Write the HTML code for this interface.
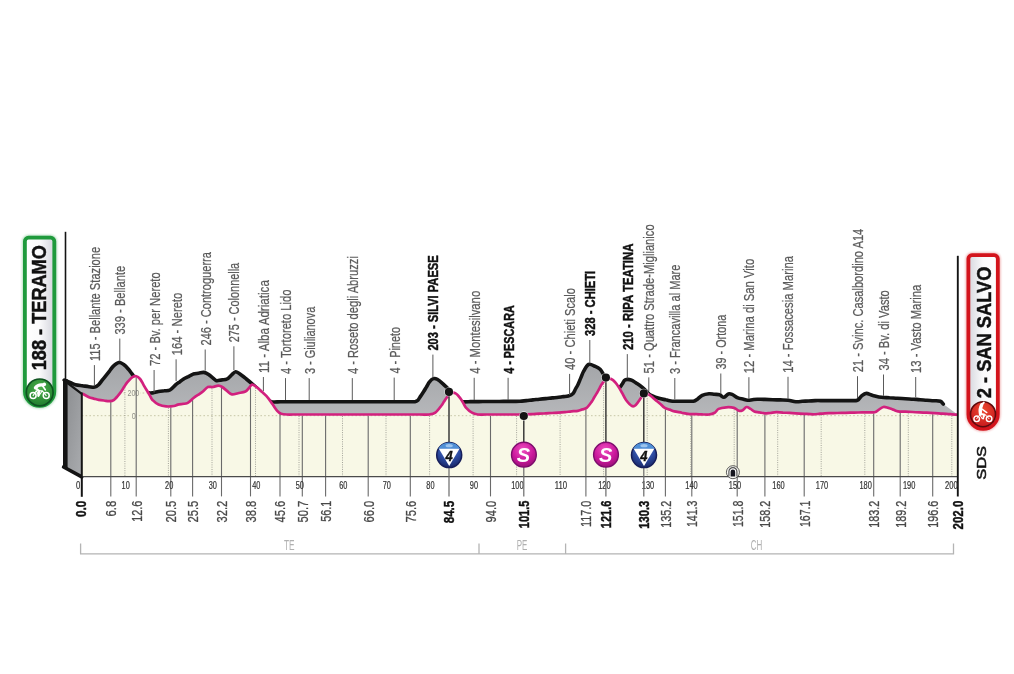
<!DOCTYPE html>
<html lang="it">
<head>
<meta charset="utf-8">
<title>Teramo - San Salvo</title>
<style>
html,body{margin:0;padding:0;background:#ffffff;}
body{width:1014px;height:674px;overflow:hidden;}
svg{display:block;}
</style>
</head>
<body>
<svg width="1014" height="674" viewBox="0 0 1014 674" font-family="'Liberation Sans', sans-serif">
<defs>
<linearGradient id="gTop" x1="0" y1="0" x2="0" y2="1"><stop offset="0" stop-color="#a3a5a8"/><stop offset="1" stop-color="#bbbcbf"/></linearGradient>
<linearGradient id="gSide" x1="0" y1="0" x2="1" y2="1"><stop offset="0" stop-color="#8a8c8f"/><stop offset="1" stop-color="#aaacaf"/></linearGradient>
<linearGradient id="gStart" x1="0" y1="0" x2="1" y2="0"><stop offset="0" stop-color="#ffffff"/><stop offset="0.5" stop-color="#fafafb"/><stop offset="1" stop-color="#d3d4dc"/></linearGradient>
<linearGradient id="gFin" x1="0" y1="0" x2="1" y2="0"><stop offset="0" stop-color="#d6d7de"/><stop offset="0.5" stop-color="#fafafb"/><stop offset="1" stop-color="#ffffff"/></linearGradient>
<radialGradient id="gGreen" cx="0.5" cy="0.35" r="0.7"><stop offset="0" stop-color="#4db04a"/><stop offset="1" stop-color="#1c7a2c"/></radialGradient>
<radialGradient id="gRed" cx="0.5" cy="0.35" r="0.7"><stop offset="0" stop-color="#ee4a30"/><stop offset="1" stop-color="#c4161c"/></radialGradient>
<radialGradient id="gBlue" cx="0.5" cy="0.25" r="0.8"><stop offset="0" stop-color="#5f86d6"/><stop offset="0.55" stop-color="#2c4aa0"/><stop offset="1" stop-color="#16225e"/></radialGradient>
<radialGradient id="gMag" cx="0.45" cy="0.3" r="0.8"><stop offset="0" stop-color="#ef4fc0"/><stop offset="0.55" stop-color="#c9179b"/><stop offset="1" stop-color="#8c0f6c"/></radialGradient>
<filter id="blur1" x="-20%" y="-20%" width="140%" height="140%"><feGaussianBlur stdDeviation="1.2"/></filter>
</defs>
<rect width="1014" height="674" fill="#ffffff"/>
<path d="M64.5,380.2C65.4,380.6 68.1,381.7 70.0,382.4C71.8,383.2 73.4,384.2 75.4,384.7C77.4,385.2 79.9,385.4 82.2,385.7C84.5,386.0 86.9,386.5 89.0,386.7C91.1,386.9 93.1,387.4 94.7,387.1C96.3,386.8 97.3,385.9 98.6,384.7C99.9,383.5 101.2,381.5 102.4,379.9C103.7,378.3 105.1,376.6 106.3,375.1C107.5,373.6 108.6,372.2 109.7,370.8C110.8,369.3 111.6,367.8 113.1,366.4C114.6,365.0 117.1,362.8 118.9,362.5C120.7,362.2 122.1,363.4 123.7,364.5C125.3,365.6 127.2,367.8 128.5,369.3C129.8,370.8 130.7,372.2 131.8,373.6C132.8,375.1 134.0,376.4 135.0,378.0C136.0,379.6 137.0,381.3 138.0,383.0C139.0,384.7 139.5,386.4 141.0,388.0C142.5,389.6 145.1,391.7 147.0,392.5C148.9,393.3 150.8,393.1 152.7,392.9C154.6,392.7 156.6,391.9 158.5,391.5C160.4,391.1 162.3,391.0 164.2,390.8C166.2,390.5 168.1,391.0 170.0,390.0C171.9,389.0 174.2,386.1 175.8,384.7C177.4,383.3 178.4,382.8 179.7,381.9C181.0,380.9 182.2,379.9 183.6,379.0C185.0,378.1 186.8,377.4 188.4,376.6C190.0,375.7 191.5,374.7 193.2,374.1C194.9,373.6 196.7,373.5 198.5,373.2C200.3,373.0 202.1,372.2 203.8,372.4C205.5,372.6 207.2,373.6 208.6,374.5C210.0,375.4 211.2,376.6 212.5,377.6C213.8,378.6 214.9,380.3 216.4,380.7C217.9,381.1 219.9,380.1 221.7,379.9C223.5,379.6 225.3,379.9 227.0,379.0C228.7,378.1 230.5,375.8 231.9,374.6C233.3,373.4 234.4,371.8 235.7,371.7C237.0,371.6 237.8,372.6 239.6,373.8C241.4,375.0 244.2,377.3 246.3,379.0C248.4,380.7 250.5,382.4 252.1,383.8C253.7,385.2 254.7,386.2 256.1,387.4C257.4,388.6 258.8,389.8 260.0,391.0C261.2,392.2 262.0,393.3 263.0,394.5C264.0,395.7 264.6,396.8 266.0,398.0C267.4,399.2 269.0,401.1 271.4,401.7C273.8,402.3 277.4,401.7 280.4,401.7C283.4,401.7 286.4,401.7 289.3,401.7C292.3,401.7 295.3,401.7 298.3,401.7C301.3,401.7 304.3,401.7 307.3,401.7C310.3,401.7 313.3,401.7 316.3,401.7C319.3,401.7 322.3,401.7 325.2,401.7C328.2,401.7 331.2,401.7 334.2,401.7C337.2,401.7 340.2,401.7 343.2,401.7C346.2,401.7 349.2,401.7 352.2,401.7C355.2,401.7 358.2,401.7 361.1,401.7C364.1,401.7 367.1,401.7 370.1,401.7C373.1,401.7 376.1,401.7 379.1,401.7C382.1,401.7 385.1,401.7 388.1,401.7C391.1,401.7 394.1,401.7 397.1,401.7C400.0,401.7 403.0,401.7 406.0,401.7C409.0,401.7 413.0,401.9 415.0,401.7C417.0,401.4 416.9,401.2 417.9,400.2C418.9,399.2 419.8,397.3 420.8,395.9C421.8,394.4 422.7,393.0 423.7,391.5C424.7,390.0 425.6,388.3 426.6,386.7C427.6,385.1 428.4,383.2 429.5,381.9C430.6,380.5 432.1,379.0 433.4,378.6C434.7,378.2 435.6,378.4 437.2,379.3C438.8,380.2 441.4,382.4 443.0,383.8C444.6,385.2 445.4,386.1 446.9,387.6C448.4,389.1 450.3,391.1 452.0,393.0C453.7,394.9 455.3,397.6 457.0,399.0C458.7,400.4 460.0,401.3 462.3,401.7C464.6,402.1 467.8,401.7 470.5,401.6C473.3,401.6 476.0,401.6 478.8,401.6C481.5,401.6 484.3,401.5 487.0,401.5C489.8,401.5 492.5,401.5 495.3,401.5C498.0,401.5 500.8,401.4 503.5,401.4C506.3,401.4 509.0,401.4 511.8,401.4C514.5,401.3 517.6,401.4 520.0,401.3C522.4,401.2 524.3,400.8 526.4,400.6C528.6,400.4 530.7,400.1 532.9,399.9C535.0,399.7 537.2,399.4 539.3,399.2C541.4,399.0 543.6,398.8 545.7,398.6C547.9,398.4 550.0,398.1 552.2,397.9C554.3,397.7 556.7,397.5 558.6,397.3C560.5,397.1 561.8,396.9 563.5,396.6C565.1,396.4 566.7,396.5 568.3,396.0C569.9,395.5 571.9,394.6 573.1,393.4C574.3,392.2 574.7,390.5 575.5,389.0C576.3,387.6 577.0,386.5 577.9,384.7C578.8,382.9 579.8,380.2 580.8,377.9C581.8,375.7 582.4,373.4 583.7,371.2C585.0,369.0 586.6,365.3 588.5,364.5C590.4,363.7 593.4,365.6 595.3,366.4C597.2,367.2 598.6,367.9 600.1,369.3C601.6,370.8 602.5,373.0 604.0,375.1C605.5,377.2 607.3,379.9 609.0,382.0C610.7,384.1 612.3,386.6 614.0,387.5C615.7,388.4 618.0,388.2 619.4,387.6C620.8,387.0 621.3,385.0 622.3,383.8C623.3,382.5 623.8,380.5 625.2,379.9C626.7,379.3 629.2,379.4 631.0,379.9C632.8,380.4 633.9,381.5 635.8,382.8C637.7,384.1 640.5,385.8 642.6,387.6C644.7,389.4 647.0,392.1 648.4,393.4C649.8,394.7 649.5,394.6 651.3,395.4C653.1,396.2 656.6,397.6 659.0,398.3C661.4,399.0 663.5,399.3 665.8,399.8C668.0,400.2 670.2,401.0 672.5,401.2C674.8,401.4 677.2,401.2 679.5,401.2C681.8,401.2 684.2,401.2 686.5,401.2C688.8,401.2 691.7,401.5 693.5,401.2C695.3,400.9 695.9,400.2 697.4,399.2C698.9,398.2 700.3,396.3 702.2,395.4C704.1,394.5 707.0,394.0 709.0,393.8C711.0,393.6 712.5,394.1 714.3,394.3C716.1,394.5 718.0,394.3 719.6,394.8C721.2,395.3 722.5,397.4 724.0,397.3C725.5,397.2 726.9,394.5 728.3,394.0C729.6,393.5 730.5,393.8 732.1,394.4C733.7,395.0 736.1,397.1 737.9,397.9C739.7,398.7 741.1,398.7 742.8,399.0C744.4,399.4 746.0,400.1 747.6,400.2C749.2,400.3 750.8,399.9 752.4,399.7C754.0,399.5 755.1,399.2 757.2,399.2C759.3,399.2 762.4,399.4 764.9,399.4C767.5,399.5 770.1,399.6 772.7,399.7C775.2,399.8 777.8,399.9 780.4,399.9C783.0,400.0 785.5,399.9 788.1,400.2C790.7,400.5 793.4,401.5 795.8,401.7C798.2,401.9 800.1,401.5 802.2,401.3C804.4,401.2 806.5,401.1 808.7,401.0C810.8,400.8 812.6,400.7 815.1,400.6C817.6,400.5 820.9,400.6 823.8,400.6C826.7,400.6 829.6,400.6 832.5,400.6C835.5,400.6 838.4,400.6 841.3,400.6C844.2,400.6 847.3,400.7 850.0,400.6C852.7,400.5 855.5,400.9 857.4,400.2C859.3,399.5 859.8,397.4 861.2,396.3C862.7,395.2 864.2,393.5 866.1,393.4C868.0,393.2 870.2,394.8 872.8,395.4C875.4,396.0 878.7,396.9 881.5,397.3C884.3,397.7 886.8,397.6 889.5,397.8C892.1,397.9 894.8,398.1 897.5,398.2C900.1,398.4 902.8,398.6 905.4,398.7C908.1,398.9 910.9,399.0 913.4,399.2C915.9,399.4 917.9,399.5 920.1,399.7C922.4,399.9 924.6,400.0 926.9,400.2C929.1,400.4 931.4,400.5 933.6,400.7C935.9,400.9 938.8,400.6 940.4,401.2C942.0,401.8 942.8,403.6 943.3,404.1 L957.8,414.7 L957.8,430 L64.5,430 Z" fill="url(#gTop)"/>
<path d="M64.5,380.2C65.4,380.6 68.1,381.7 70.0,382.4C71.8,383.2 73.4,384.2 75.4,384.7C77.4,385.2 79.9,385.4 82.2,385.7C84.5,386.0 86.9,386.5 89.0,386.7C91.1,386.9 93.1,387.4 94.7,387.1C96.3,386.8 97.3,385.9 98.6,384.7C99.9,383.5 101.2,381.5 102.4,379.9C103.7,378.3 105.1,376.6 106.3,375.1C107.5,373.6 108.6,372.2 109.7,370.8C110.8,369.3 111.6,367.8 113.1,366.4C114.6,365.0 117.1,362.8 118.9,362.5C120.7,362.2 122.1,363.4 123.7,364.5C125.3,365.6 127.2,367.8 128.5,369.3C129.8,370.8 130.7,372.2 131.8,373.6C132.8,375.1 134.0,376.4 135.0,378.0C136.0,379.6 137.0,381.3 138.0,383.0C139.0,384.7 139.5,386.4 141.0,388.0C142.5,389.6 145.1,391.7 147.0,392.5C148.9,393.3 150.8,393.1 152.7,392.9C154.6,392.7 156.6,391.9 158.5,391.5C160.4,391.1 162.3,391.0 164.2,390.8C166.2,390.5 168.1,391.0 170.0,390.0C171.9,389.0 174.2,386.1 175.8,384.7C177.4,383.3 178.4,382.8 179.7,381.9C181.0,380.9 182.2,379.9 183.6,379.0C185.0,378.1 186.8,377.4 188.4,376.6C190.0,375.7 191.5,374.7 193.2,374.1C194.9,373.6 196.7,373.5 198.5,373.2C200.3,373.0 202.1,372.2 203.8,372.4C205.5,372.6 207.2,373.6 208.6,374.5C210.0,375.4 211.2,376.6 212.5,377.6C213.8,378.6 214.9,380.3 216.4,380.7C217.9,381.1 219.9,380.1 221.7,379.9C223.5,379.6 225.3,379.9 227.0,379.0C228.7,378.1 230.5,375.8 231.9,374.6C233.3,373.4 234.4,371.8 235.7,371.7C237.0,371.6 237.8,372.6 239.6,373.8C241.4,375.0 244.2,377.3 246.3,379.0C248.4,380.7 250.5,382.4 252.1,383.8C253.7,385.2 254.7,386.2 256.1,387.4C257.4,388.6 258.8,389.8 260.0,391.0C261.2,392.2 262.0,393.3 263.0,394.5C264.0,395.7 264.6,396.8 266.0,398.0C267.4,399.2 269.0,401.1 271.4,401.7C273.8,402.3 277.4,401.7 280.4,401.7C283.4,401.7 286.4,401.7 289.3,401.7C292.3,401.7 295.3,401.7 298.3,401.7C301.3,401.7 304.3,401.7 307.3,401.7C310.3,401.7 313.3,401.7 316.3,401.7C319.3,401.7 322.3,401.7 325.2,401.7C328.2,401.7 331.2,401.7 334.2,401.7C337.2,401.7 340.2,401.7 343.2,401.7C346.2,401.7 349.2,401.7 352.2,401.7C355.2,401.7 358.2,401.7 361.1,401.7C364.1,401.7 367.1,401.7 370.1,401.7C373.1,401.7 376.1,401.7 379.1,401.7C382.1,401.7 385.1,401.7 388.1,401.7C391.1,401.7 394.1,401.7 397.1,401.7C400.0,401.7 403.0,401.7 406.0,401.7C409.0,401.7 413.0,401.9 415.0,401.7C417.0,401.4 416.9,401.2 417.9,400.2C418.9,399.2 419.8,397.3 420.8,395.9C421.8,394.4 422.7,393.0 423.7,391.5C424.7,390.0 425.6,388.3 426.6,386.7C427.6,385.1 428.4,383.2 429.5,381.9C430.6,380.5 432.1,379.0 433.4,378.6C434.7,378.2 435.6,378.4 437.2,379.3C438.8,380.2 441.4,382.4 443.0,383.8C444.6,385.2 445.4,386.1 446.9,387.6C448.4,389.1 450.3,391.1 452.0,393.0C453.7,394.9 455.3,397.6 457.0,399.0C458.7,400.4 460.0,401.3 462.3,401.7C464.6,402.1 467.8,401.7 470.5,401.6C473.3,401.6 476.0,401.6 478.8,401.6C481.5,401.6 484.3,401.5 487.0,401.5C489.8,401.5 492.5,401.5 495.3,401.5C498.0,401.5 500.8,401.4 503.5,401.4C506.3,401.4 509.0,401.4 511.8,401.4C514.5,401.3 517.6,401.4 520.0,401.3C522.4,401.2 524.3,400.8 526.4,400.6C528.6,400.4 530.7,400.1 532.9,399.9C535.0,399.7 537.2,399.4 539.3,399.2C541.4,399.0 543.6,398.8 545.7,398.6C547.9,398.4 550.0,398.1 552.2,397.9C554.3,397.7 556.7,397.5 558.6,397.3C560.5,397.1 561.8,396.9 563.5,396.6C565.1,396.4 566.7,396.5 568.3,396.0C569.9,395.5 571.9,394.6 573.1,393.4C574.3,392.2 574.7,390.5 575.5,389.0C576.3,387.6 577.0,386.5 577.9,384.7C578.8,382.9 579.8,380.2 580.8,377.9C581.8,375.7 582.4,373.4 583.7,371.2C585.0,369.0 586.6,365.3 588.5,364.5C590.4,363.7 593.4,365.6 595.3,366.4C597.2,367.2 598.6,367.9 600.1,369.3C601.6,370.8 602.5,373.0 604.0,375.1C605.5,377.2 607.3,379.9 609.0,382.0C610.7,384.1 612.3,386.6 614.0,387.5C615.7,388.4 618.0,388.2 619.4,387.6C620.8,387.0 621.3,385.0 622.3,383.8C623.3,382.5 623.8,380.5 625.2,379.9C626.7,379.3 629.2,379.4 631.0,379.9C632.8,380.4 633.9,381.5 635.8,382.8C637.7,384.1 640.5,385.8 642.6,387.6C644.7,389.4 647.0,392.1 648.4,393.4C649.8,394.7 649.5,394.6 651.3,395.4C653.1,396.2 656.6,397.6 659.0,398.3C661.4,399.0 663.5,399.3 665.8,399.8C668.0,400.2 670.2,401.0 672.5,401.2C674.8,401.4 677.2,401.2 679.5,401.2C681.8,401.2 684.2,401.2 686.5,401.2C688.8,401.2 691.7,401.5 693.5,401.2C695.3,400.9 695.9,400.2 697.4,399.2C698.9,398.2 700.3,396.3 702.2,395.4C704.1,394.5 707.0,394.0 709.0,393.8C711.0,393.6 712.5,394.1 714.3,394.3C716.1,394.5 718.0,394.3 719.6,394.8C721.2,395.3 722.5,397.4 724.0,397.3C725.5,397.2 726.9,394.5 728.3,394.0C729.6,393.5 730.5,393.8 732.1,394.4C733.7,395.0 736.1,397.1 737.9,397.9C739.7,398.7 741.1,398.7 742.8,399.0C744.4,399.4 746.0,400.1 747.6,400.2C749.2,400.3 750.8,399.9 752.4,399.7C754.0,399.5 755.1,399.2 757.2,399.2C759.3,399.2 762.4,399.4 764.9,399.4C767.5,399.5 770.1,399.6 772.7,399.7C775.2,399.8 777.8,399.9 780.4,399.9C783.0,400.0 785.5,399.9 788.1,400.2C790.7,400.5 793.4,401.5 795.8,401.7C798.2,401.9 800.1,401.5 802.2,401.3C804.4,401.2 806.5,401.1 808.7,401.0C810.8,400.8 812.6,400.7 815.1,400.6C817.6,400.5 820.9,400.6 823.8,400.6C826.7,400.6 829.6,400.6 832.5,400.6C835.5,400.6 838.4,400.6 841.3,400.6C844.2,400.6 847.3,400.7 850.0,400.6C852.7,400.5 855.5,400.9 857.4,400.2C859.3,399.5 859.8,397.4 861.2,396.3C862.7,395.2 864.2,393.5 866.1,393.4C868.0,393.2 870.2,394.8 872.8,395.4C875.4,396.0 878.7,396.9 881.5,397.3C884.3,397.7 886.8,397.6 889.5,397.8C892.1,397.9 894.8,398.1 897.5,398.2C900.1,398.4 902.8,398.6 905.4,398.7C908.1,398.9 910.9,399.0 913.4,399.2C915.9,399.4 917.9,399.5 920.1,399.7C922.4,399.9 924.6,400.0 926.9,400.2C929.1,400.4 931.4,400.5 933.6,400.7C935.9,400.9 938.8,400.6 940.4,401.2C942.0,401.8 942.8,403.6 943.3,404.1" fill="none" stroke="#141414" stroke-width="3.6" stroke-linejoin="round" stroke-linecap="round"/>
<path d="M64.6,380.5 L81.8,393.6 L81.8,476.6 L64.6,467.2 Z" fill="url(#gSide)"/>
<path d="M65.3,379 L65.3,468" stroke="#141414" stroke-width="4.6" fill="none"/>
<path d="M63.5,380 L81.8,393.8" stroke="#141414" stroke-width="2.2" fill="none" stroke-linecap="round"/>
<path d="M63.6,467 L81.8,476.9" stroke="#141414" stroke-width="3.6" fill="none" stroke-linecap="round"/>
<path d="M82.2,393.4C83.3,394.0 87.1,396.4 89.0,397.3C90.9,398.2 92.2,398.1 93.8,398.6C95.4,399.0 96.9,399.5 98.6,399.8C100.3,400.1 102.1,400.3 103.9,400.5C105.7,400.7 107.5,401.3 109.2,401.2C110.9,401.1 112.3,401.1 114.1,399.8C115.9,398.5 118.2,395.4 119.8,393.4C121.4,391.4 122.4,389.6 123.7,387.6C125.0,385.7 126.1,383.6 127.6,381.9C129.1,380.2 130.9,378.1 132.4,377.2C133.9,376.3 135.0,376.0 136.3,376.3C137.6,376.6 138.9,377.6 140.1,379.0C141.3,380.4 142.4,382.8 143.5,384.8C144.6,386.7 145.8,388.7 146.9,390.5C148.0,392.3 148.8,393.7 149.8,395.4C150.8,397.0 151.2,398.7 152.7,400.2C154.1,401.7 156.2,403.4 158.5,404.4C160.8,405.4 163.6,406.1 166.2,406.4C168.8,406.7 172.0,406.3 173.9,406.0C175.8,405.7 176.4,405.0 177.8,404.6C179.2,404.2 181.0,404.1 182.6,403.9C184.2,403.6 185.6,404.0 187.4,403.1C189.2,402.2 191.4,399.7 193.2,398.3C195.0,396.9 196.4,396.0 198.1,394.9C199.7,393.8 201.3,392.8 202.9,391.5C204.5,390.2 206.1,387.9 207.7,387.1C209.3,386.4 210.7,387.2 212.5,387.0C214.3,386.8 216.7,385.7 218.3,385.7C219.9,385.7 220.8,386.1 222.2,387.0C223.6,387.9 225.4,389.7 227.0,390.9C228.6,392.1 230.1,394.0 231.9,394.4C233.7,394.8 235.8,393.7 238.0,393.2C240.2,392.7 243.6,392.4 245.4,391.5C247.2,390.6 247.9,389.1 249.0,388.0C250.1,386.9 250.9,384.9 252.1,384.7C253.3,384.5 254.7,385.8 256.0,386.7C257.3,387.6 258.6,388.9 259.9,390.0C261.1,391.2 262.4,392.2 263.7,393.4C265.0,394.6 266.2,395.5 267.6,397.3C269.1,399.1 270.8,401.8 272.4,404.1C274.0,406.3 275.8,409.2 277.2,410.8C278.6,412.4 279.5,413.1 281.1,413.7C282.7,414.3 284.4,414.4 286.9,414.5C289.4,414.6 292.8,414.5 295.8,414.5C298.8,414.5 301.8,414.5 304.7,414.5C307.7,414.5 310.7,414.5 313.6,414.5C316.6,414.5 319.6,414.5 322.5,414.5C325.5,414.5 328.5,414.5 331.5,414.5C334.4,414.5 337.4,414.5 340.4,414.5C343.3,414.5 346.3,414.5 349.3,414.5C352.3,414.5 355.2,414.5 358.2,414.5C361.2,414.5 364.1,414.5 367.1,414.5C370.1,414.5 373.1,414.5 376.0,414.5C379.0,414.5 382.0,414.5 384.9,414.5C387.9,414.5 390.9,414.5 393.9,414.5C396.8,414.5 399.8,414.5 402.8,414.5C405.7,414.5 408.7,414.5 411.7,414.5C414.6,414.5 417.6,414.5 420.6,414.5C423.6,414.5 427.0,414.8 429.5,414.5C432.0,414.2 433.4,414.1 435.3,412.7C437.2,411.3 439.7,407.8 441.1,406.0C442.6,404.2 443.0,403.1 444.0,401.6C445.0,400.2 445.6,398.8 446.9,397.3C448.2,395.8 450.2,393.5 451.7,392.9C453.1,392.2 454.2,392.5 455.6,393.4C457.1,394.3 459.1,396.7 460.4,398.3C461.7,399.9 462.3,401.5 463.3,403.1C464.3,404.7 464.8,406.3 466.2,407.9C467.6,409.5 470.1,411.6 472.0,412.7C473.9,413.8 475.6,414.2 477.8,414.5C480.0,414.8 482.9,414.5 485.5,414.5C488.0,414.5 490.6,414.5 493.2,414.5C495.7,414.5 498.3,414.5 500.9,414.5C503.4,414.5 506.0,414.5 508.5,414.5C511.1,414.5 513.7,414.5 516.2,414.5C518.8,414.5 521.3,414.6 523.9,414.5C526.5,414.4 529.0,414.2 531.6,414.1C534.2,414.0 536.9,413.8 539.3,413.7C541.7,413.6 543.6,413.5 545.7,413.4C547.9,413.3 550.0,413.1 552.2,413.0C554.3,412.9 556.5,412.9 558.6,412.7C560.7,412.5 562.9,412.3 565.0,412.1C567.2,411.9 569.3,411.6 571.5,411.4C573.6,411.2 576.1,411.1 577.9,410.8C579.7,410.5 580.8,409.8 582.2,409.4C583.7,408.9 585.1,409.1 586.6,407.9C588.1,406.7 590.1,403.9 591.4,402.1C592.7,400.3 593.3,398.9 594.3,397.3C595.3,395.7 596.3,394.0 597.2,392.5C598.1,391.0 598.8,389.6 599.6,388.1C600.4,386.7 600.8,385.3 602.0,383.8C603.2,382.3 605.1,379.6 606.9,379.0C608.7,378.4 610.8,378.6 612.7,379.9C614.6,381.2 616.9,384.4 618.5,386.7C620.1,389.0 621.1,391.2 622.4,393.4C623.6,395.7 624.6,398.1 626.2,400.2C627.8,402.3 630.4,405.2 632.0,406.0C633.6,406.8 634.3,406.3 635.8,405.0C637.2,403.7 639.4,400.1 640.7,398.3C642.0,396.5 642.2,394.6 643.6,394.0C645.0,393.4 647.7,394.1 649.3,394.8C650.9,395.5 651.9,396.9 653.2,398.0C654.5,399.1 655.8,400.1 657.1,401.2C658.4,402.3 659.7,403.4 661.0,404.5C662.2,405.7 663.4,407.0 664.8,407.9C666.2,408.8 668.0,409.1 669.6,409.6C671.2,410.2 672.3,410.9 674.4,411.4C676.5,411.9 679.5,412.3 682.0,412.8C684.6,413.2 687.4,413.9 689.7,414.1C692.0,414.3 694.0,414.2 696.1,414.2C698.3,414.3 700.4,414.3 702.6,414.4C704.7,414.4 707.0,414.8 709.0,414.5C711.0,414.2 713.1,413.6 714.7,412.7C716.3,411.8 716.7,409.8 718.6,408.9C720.5,408.0 723.7,407.5 726.3,407.3C728.9,407.1 731.9,407.3 734.0,407.9C736.1,408.5 737.4,410.4 738.9,410.8C740.4,411.2 741.4,410.8 742.7,410.2C744.0,409.6 745.3,407.2 746.6,407.0C747.9,406.8 749.2,408.2 750.5,408.9C751.8,409.6 752.8,410.8 754.3,411.4C755.8,412.0 757.8,412.0 759.6,412.4C761.4,412.7 763.0,413.2 764.9,413.3C766.8,413.4 768.8,412.9 770.7,412.8C772.6,412.6 774.5,412.2 776.5,412.2C778.5,412.2 780.8,412.4 782.9,412.6C785.1,412.7 787.2,412.8 789.4,412.9C791.5,413.1 793.3,413.2 795.8,413.3C798.3,413.4 801.6,413.6 804.5,413.8C807.4,414.0 810.8,414.3 813.2,414.3C815.6,414.3 817.1,414.0 819.0,413.8C820.9,413.6 822.4,413.4 824.8,413.3C827.2,413.2 830.4,413.2 833.2,413.1C836.0,413.0 838.8,413.0 841.6,412.9C844.4,412.8 847.2,412.8 850.0,412.7C852.8,412.6 855.5,412.6 858.2,412.5C861.0,412.5 863.7,412.4 866.5,412.4C869.2,412.3 872.7,412.6 874.7,412.2C876.7,411.8 877.2,410.7 878.6,409.8C880.0,408.9 881.8,407.3 883.4,407.0C885.0,406.7 886.7,407.5 888.3,407.9C889.9,408.3 891.5,409.1 893.1,409.6C894.7,410.2 895.9,411.1 897.9,411.4C899.9,411.7 902.7,411.6 905.1,411.7C907.6,411.8 910.0,411.9 912.4,412.0C914.8,412.2 917.2,412.3 919.6,412.4C922.1,412.5 924.4,412.6 926.9,412.7C929.4,412.8 932.0,413.0 934.6,413.2C937.2,413.4 939.8,413.5 942.3,413.7C944.9,413.9 947.5,414.0 950.1,414.2C952.6,414.4 956.5,414.6 957.8,414.7 L957.8,476.6 L81.8,476.6 Z" fill="#f8f8e6"/>
<clipPath id="cFront"><path d="M82.2,393.4C83.3,394.0 87.1,396.4 89.0,397.3C90.9,398.2 92.2,398.1 93.8,398.6C95.4,399.0 96.9,399.5 98.6,399.8C100.3,400.1 102.1,400.3 103.9,400.5C105.7,400.7 107.5,401.3 109.2,401.2C110.9,401.1 112.3,401.1 114.1,399.8C115.9,398.5 118.2,395.4 119.8,393.4C121.4,391.4 122.4,389.6 123.7,387.6C125.0,385.7 126.1,383.6 127.6,381.9C129.1,380.2 130.9,378.1 132.4,377.2C133.9,376.3 135.0,376.0 136.3,376.3C137.6,376.6 138.9,377.6 140.1,379.0C141.3,380.4 142.4,382.8 143.5,384.8C144.6,386.7 145.8,388.7 146.9,390.5C148.0,392.3 148.8,393.7 149.8,395.4C150.8,397.0 151.2,398.7 152.7,400.2C154.1,401.7 156.2,403.4 158.5,404.4C160.8,405.4 163.6,406.1 166.2,406.4C168.8,406.7 172.0,406.3 173.9,406.0C175.8,405.7 176.4,405.0 177.8,404.6C179.2,404.2 181.0,404.1 182.6,403.9C184.2,403.6 185.6,404.0 187.4,403.1C189.2,402.2 191.4,399.7 193.2,398.3C195.0,396.9 196.4,396.0 198.1,394.9C199.7,393.8 201.3,392.8 202.9,391.5C204.5,390.2 206.1,387.9 207.7,387.1C209.3,386.4 210.7,387.2 212.5,387.0C214.3,386.8 216.7,385.7 218.3,385.7C219.9,385.7 220.8,386.1 222.2,387.0C223.6,387.9 225.4,389.7 227.0,390.9C228.6,392.1 230.1,394.0 231.9,394.4C233.7,394.8 235.8,393.7 238.0,393.2C240.2,392.7 243.6,392.4 245.4,391.5C247.2,390.6 247.9,389.1 249.0,388.0C250.1,386.9 250.9,384.9 252.1,384.7C253.3,384.5 254.7,385.8 256.0,386.7C257.3,387.6 258.6,388.9 259.9,390.0C261.1,391.2 262.4,392.2 263.7,393.4C265.0,394.6 266.2,395.5 267.6,397.3C269.1,399.1 270.8,401.8 272.4,404.1C274.0,406.3 275.8,409.2 277.2,410.8C278.6,412.4 279.5,413.1 281.1,413.7C282.7,414.3 284.4,414.4 286.9,414.5C289.4,414.6 292.8,414.5 295.8,414.5C298.8,414.5 301.8,414.5 304.7,414.5C307.7,414.5 310.7,414.5 313.6,414.5C316.6,414.5 319.6,414.5 322.5,414.5C325.5,414.5 328.5,414.5 331.5,414.5C334.4,414.5 337.4,414.5 340.4,414.5C343.3,414.5 346.3,414.5 349.3,414.5C352.3,414.5 355.2,414.5 358.2,414.5C361.2,414.5 364.1,414.5 367.1,414.5C370.1,414.5 373.1,414.5 376.0,414.5C379.0,414.5 382.0,414.5 384.9,414.5C387.9,414.5 390.9,414.5 393.9,414.5C396.8,414.5 399.8,414.5 402.8,414.5C405.7,414.5 408.7,414.5 411.7,414.5C414.6,414.5 417.6,414.5 420.6,414.5C423.6,414.5 427.0,414.8 429.5,414.5C432.0,414.2 433.4,414.1 435.3,412.7C437.2,411.3 439.7,407.8 441.1,406.0C442.6,404.2 443.0,403.1 444.0,401.6C445.0,400.2 445.6,398.8 446.9,397.3C448.2,395.8 450.2,393.5 451.7,392.9C453.1,392.2 454.2,392.5 455.6,393.4C457.1,394.3 459.1,396.7 460.4,398.3C461.7,399.9 462.3,401.5 463.3,403.1C464.3,404.7 464.8,406.3 466.2,407.9C467.6,409.5 470.1,411.6 472.0,412.7C473.9,413.8 475.6,414.2 477.8,414.5C480.0,414.8 482.9,414.5 485.5,414.5C488.0,414.5 490.6,414.5 493.2,414.5C495.7,414.5 498.3,414.5 500.9,414.5C503.4,414.5 506.0,414.5 508.5,414.5C511.1,414.5 513.7,414.5 516.2,414.5C518.8,414.5 521.3,414.6 523.9,414.5C526.5,414.4 529.0,414.2 531.6,414.1C534.2,414.0 536.9,413.8 539.3,413.7C541.7,413.6 543.6,413.5 545.7,413.4C547.9,413.3 550.0,413.1 552.2,413.0C554.3,412.9 556.5,412.9 558.6,412.7C560.7,412.5 562.9,412.3 565.0,412.1C567.2,411.9 569.3,411.6 571.5,411.4C573.6,411.2 576.1,411.1 577.9,410.8C579.7,410.5 580.8,409.8 582.2,409.4C583.7,408.9 585.1,409.1 586.6,407.9C588.1,406.7 590.1,403.9 591.4,402.1C592.7,400.3 593.3,398.9 594.3,397.3C595.3,395.7 596.3,394.0 597.2,392.5C598.1,391.0 598.8,389.6 599.6,388.1C600.4,386.7 600.8,385.3 602.0,383.8C603.2,382.3 605.1,379.6 606.9,379.0C608.7,378.4 610.8,378.6 612.7,379.9C614.6,381.2 616.9,384.4 618.5,386.7C620.1,389.0 621.1,391.2 622.4,393.4C623.6,395.7 624.6,398.1 626.2,400.2C627.8,402.3 630.4,405.2 632.0,406.0C633.6,406.8 634.3,406.3 635.8,405.0C637.2,403.7 639.4,400.1 640.7,398.3C642.0,396.5 642.2,394.6 643.6,394.0C645.0,393.4 647.7,394.1 649.3,394.8C650.9,395.5 651.9,396.9 653.2,398.0C654.5,399.1 655.8,400.1 657.1,401.2C658.4,402.3 659.7,403.4 661.0,404.5C662.2,405.7 663.4,407.0 664.8,407.9C666.2,408.8 668.0,409.1 669.6,409.6C671.2,410.2 672.3,410.9 674.4,411.4C676.5,411.9 679.5,412.3 682.0,412.8C684.6,413.2 687.4,413.9 689.7,414.1C692.0,414.3 694.0,414.2 696.1,414.2C698.3,414.3 700.4,414.3 702.6,414.4C704.7,414.4 707.0,414.8 709.0,414.5C711.0,414.2 713.1,413.6 714.7,412.7C716.3,411.8 716.7,409.8 718.6,408.9C720.5,408.0 723.7,407.5 726.3,407.3C728.9,407.1 731.9,407.3 734.0,407.9C736.1,408.5 737.4,410.4 738.9,410.8C740.4,411.2 741.4,410.8 742.7,410.2C744.0,409.6 745.3,407.2 746.6,407.0C747.9,406.8 749.2,408.2 750.5,408.9C751.8,409.6 752.8,410.8 754.3,411.4C755.8,412.0 757.8,412.0 759.6,412.4C761.4,412.7 763.0,413.2 764.9,413.3C766.8,413.4 768.8,412.9 770.7,412.8C772.6,412.6 774.5,412.2 776.5,412.2C778.5,412.2 780.8,412.4 782.9,412.6C785.1,412.7 787.2,412.8 789.4,412.9C791.5,413.1 793.3,413.2 795.8,413.3C798.3,413.4 801.6,413.6 804.5,413.8C807.4,414.0 810.8,414.3 813.2,414.3C815.6,414.3 817.1,414.0 819.0,413.8C820.9,413.6 822.4,413.4 824.8,413.3C827.2,413.2 830.4,413.2 833.2,413.1C836.0,413.0 838.8,413.0 841.6,412.9C844.4,412.8 847.2,412.8 850.0,412.7C852.8,412.6 855.5,412.6 858.2,412.5C861.0,412.5 863.7,412.4 866.5,412.4C869.2,412.3 872.7,412.6 874.7,412.2C876.7,411.8 877.2,410.7 878.6,409.8C880.0,408.9 881.8,407.3 883.4,407.0C885.0,406.7 886.7,407.5 888.3,407.9C889.9,408.3 891.5,409.1 893.1,409.6C894.7,410.2 895.9,411.1 897.9,411.4C899.9,411.7 902.7,411.6 905.1,411.7C907.6,411.8 910.0,411.9 912.4,412.0C914.8,412.2 917.2,412.3 919.6,412.4C922.1,412.5 924.4,412.6 926.9,412.7C929.4,412.8 932.0,413.0 934.6,413.2C937.2,413.4 939.8,413.5 942.3,413.7C944.9,413.9 947.5,414.0 950.1,414.2C952.6,414.4 956.5,414.6 957.8,414.7 L957.8,476.6 L81.8,476.6 Z"/></clipPath>
<g clip-path="url(#cFront)" stroke="#c2c2a2" stroke-width="0.9" stroke-dasharray="1.6,2.2" fill="none">
<path d="M81.8,415.7 H957.8"/>
<path d="M81.8,393.0 H160"/>
</g>
<g stroke="#8e8e86" stroke-width="0.8" stroke-dasharray="1,1.3" fill="none">
<path d="M124.9,387.4 V476.6"/>
<path d="M168.4,407.8 V476.6"/>
<path d="M212.0,388.5 V476.6"/>
<path d="M255.5,387.9 V476.6"/>
<path d="M299.0,416.0 V476.6"/>
<path d="M342.5,416.0 V476.6"/>
<path d="M386.0,416.0 V476.6"/>
<path d="M429.6,416.0 V476.6"/>
<path d="M473.1,414.5 V476.6"/>
<path d="M516.6,416.0 V476.6"/>
<path d="M560.1,414.1 V476.6"/>
<path d="M603.6,383.7 V476.6"/>
<path d="M647.2,396.0 V476.6"/>
<path d="M690.7,415.6 V476.6"/>
<path d="M734.2,409.5 V476.6"/>
<path d="M777.7,413.8 V476.6"/>
<path d="M821.2,415.1 V476.6"/>
<path d="M864.8,413.9 V476.6"/>
<path d="M908.3,413.4 V476.6"/>
<path d="M951.8,415.8 V476.6"/>
</g>
<g font-size="9.2" fill="#8e8e86" text-anchor="middle">
<rect x="127" y="388.5" width="13" height="9" fill="#f8f8e6"/>
<rect x="130.5" y="411.5" width="6.5" height="8.5" fill="#f8f8e6"/>
<text x="133.4" y="395.9" textLength="11.7" lengthAdjust="spacingAndGlyphs">200</text>
<text x="133.8" y="418.9" textLength="4" lengthAdjust="spacingAndGlyphs">0</text>
</g>
<g stroke="#6a6a6a" stroke-width="1.1" fill="none">
<path d="M110.8,401.9 V496.4"/>
<path d="M136.2,377.5 V496.4"/>
<path d="M170.8,407.4 V496.4"/>
<path d="M192.6,400.0 V496.4"/>
<path d="M221.5,388.0 V496.4"/>
<path d="M250.5,387.6 V496.4"/>
<path d="M280.0,414.1 V496.4"/>
<path d="M302.3,415.7 V496.4"/>
<path d="M325.6,415.7 V496.4"/>
<path d="M368.2,415.7 V496.4"/>
<path d="M410.3,415.7 V496.4"/>
<path d="M490.5,415.7 V496.4"/>
<path d="M585.9,409.3 V496.4"/>
<path d="M665.4,409.3 V496.4"/>
<path d="M691.8,415.3 V496.4"/>
<path d="M737.2,411.0 V496.4"/>
<path d="M764.9,414.5 V496.4"/>
<path d="M804.2,415.0 V496.4"/>
<path d="M873.7,413.4 V496.4"/>
<path d="M900.2,412.7 V496.4"/>
<path d="M932.7,414.3 V496.4"/>
</g>
<path d="M82.2,393.4C83.3,394.0 87.1,396.4 89.0,397.3C90.9,398.2 92.2,398.1 93.8,398.6C95.4,399.0 96.9,399.5 98.6,399.8C100.3,400.1 102.1,400.3 103.9,400.5C105.7,400.7 107.5,401.3 109.2,401.2C110.9,401.1 112.3,401.1 114.1,399.8C115.9,398.5 118.2,395.4 119.8,393.4C121.4,391.4 122.4,389.6 123.7,387.6C125.0,385.7 126.1,383.6 127.6,381.9C129.1,380.2 130.9,378.1 132.4,377.2C133.9,376.3 135.0,376.0 136.3,376.3C137.6,376.6 138.9,377.6 140.1,379.0C141.3,380.4 142.4,382.8 143.5,384.8C144.6,386.7 145.8,388.7 146.9,390.5C148.0,392.3 148.8,393.7 149.8,395.4C150.8,397.0 151.2,398.7 152.7,400.2C154.1,401.7 156.2,403.4 158.5,404.4C160.8,405.4 163.6,406.1 166.2,406.4C168.8,406.7 172.0,406.3 173.9,406.0C175.8,405.7 176.4,405.0 177.8,404.6C179.2,404.2 181.0,404.1 182.6,403.9C184.2,403.6 185.6,404.0 187.4,403.1C189.2,402.2 191.4,399.7 193.2,398.3C195.0,396.9 196.4,396.0 198.1,394.9C199.7,393.8 201.3,392.8 202.9,391.5C204.5,390.2 206.1,387.9 207.7,387.1C209.3,386.4 210.7,387.2 212.5,387.0C214.3,386.8 216.7,385.7 218.3,385.7C219.9,385.7 220.8,386.1 222.2,387.0C223.6,387.9 225.4,389.7 227.0,390.9C228.6,392.1 230.1,394.0 231.9,394.4C233.7,394.8 235.8,393.7 238.0,393.2C240.2,392.7 243.6,392.4 245.4,391.5C247.2,390.6 247.9,389.1 249.0,388.0C250.1,386.9 250.9,384.9 252.1,384.7C253.3,384.5 254.7,385.8 256.0,386.7C257.3,387.6 258.6,388.9 259.9,390.0C261.1,391.2 262.4,392.2 263.7,393.4C265.0,394.6 266.2,395.5 267.6,397.3C269.1,399.1 270.8,401.8 272.4,404.1C274.0,406.3 275.8,409.2 277.2,410.8C278.6,412.4 279.5,413.1 281.1,413.7C282.7,414.3 284.4,414.4 286.9,414.5C289.4,414.6 292.8,414.5 295.8,414.5C298.8,414.5 301.8,414.5 304.7,414.5C307.7,414.5 310.7,414.5 313.6,414.5C316.6,414.5 319.6,414.5 322.5,414.5C325.5,414.5 328.5,414.5 331.5,414.5C334.4,414.5 337.4,414.5 340.4,414.5C343.3,414.5 346.3,414.5 349.3,414.5C352.3,414.5 355.2,414.5 358.2,414.5C361.2,414.5 364.1,414.5 367.1,414.5C370.1,414.5 373.1,414.5 376.0,414.5C379.0,414.5 382.0,414.5 384.9,414.5C387.9,414.5 390.9,414.5 393.9,414.5C396.8,414.5 399.8,414.5 402.8,414.5C405.7,414.5 408.7,414.5 411.7,414.5C414.6,414.5 417.6,414.5 420.6,414.5C423.6,414.5 427.0,414.8 429.5,414.5C432.0,414.2 433.4,414.1 435.3,412.7C437.2,411.3 439.7,407.8 441.1,406.0C442.6,404.2 443.0,403.1 444.0,401.6C445.0,400.2 445.6,398.8 446.9,397.3C448.2,395.8 450.2,393.5 451.7,392.9C453.1,392.2 454.2,392.5 455.6,393.4C457.1,394.3 459.1,396.7 460.4,398.3C461.7,399.9 462.3,401.5 463.3,403.1C464.3,404.7 464.8,406.3 466.2,407.9C467.6,409.5 470.1,411.6 472.0,412.7C473.9,413.8 475.6,414.2 477.8,414.5C480.0,414.8 482.9,414.5 485.5,414.5C488.0,414.5 490.6,414.5 493.2,414.5C495.7,414.5 498.3,414.5 500.9,414.5C503.4,414.5 506.0,414.5 508.5,414.5C511.1,414.5 513.7,414.5 516.2,414.5C518.8,414.5 521.3,414.6 523.9,414.5C526.5,414.4 529.0,414.2 531.6,414.1C534.2,414.0 536.9,413.8 539.3,413.7C541.7,413.6 543.6,413.5 545.7,413.4C547.9,413.3 550.0,413.1 552.2,413.0C554.3,412.9 556.5,412.9 558.6,412.7C560.7,412.5 562.9,412.3 565.0,412.1C567.2,411.9 569.3,411.6 571.5,411.4C573.6,411.2 576.1,411.1 577.9,410.8C579.7,410.5 580.8,409.8 582.2,409.4C583.7,408.9 585.1,409.1 586.6,407.9C588.1,406.7 590.1,403.9 591.4,402.1C592.7,400.3 593.3,398.9 594.3,397.3C595.3,395.7 596.3,394.0 597.2,392.5C598.1,391.0 598.8,389.6 599.6,388.1C600.4,386.7 600.8,385.3 602.0,383.8C603.2,382.3 605.1,379.6 606.9,379.0C608.7,378.4 610.8,378.6 612.7,379.9C614.6,381.2 616.9,384.4 618.5,386.7C620.1,389.0 621.1,391.2 622.4,393.4C623.6,395.7 624.6,398.1 626.2,400.2C627.8,402.3 630.4,405.2 632.0,406.0C633.6,406.8 634.3,406.3 635.8,405.0C637.2,403.7 639.4,400.1 640.7,398.3C642.0,396.5 642.2,394.6 643.6,394.0C645.0,393.4 647.7,394.1 649.3,394.8C650.9,395.5 651.9,396.9 653.2,398.0C654.5,399.1 655.8,400.1 657.1,401.2C658.4,402.3 659.7,403.4 661.0,404.5C662.2,405.7 663.4,407.0 664.8,407.9C666.2,408.8 668.0,409.1 669.6,409.6C671.2,410.2 672.3,410.9 674.4,411.4C676.5,411.9 679.5,412.3 682.0,412.8C684.6,413.2 687.4,413.9 689.7,414.1C692.0,414.3 694.0,414.2 696.1,414.2C698.3,414.3 700.4,414.3 702.6,414.4C704.7,414.4 707.0,414.8 709.0,414.5C711.0,414.2 713.1,413.6 714.7,412.7C716.3,411.8 716.7,409.8 718.6,408.9C720.5,408.0 723.7,407.5 726.3,407.3C728.9,407.1 731.9,407.3 734.0,407.9C736.1,408.5 737.4,410.4 738.9,410.8C740.4,411.2 741.4,410.8 742.7,410.2C744.0,409.6 745.3,407.2 746.6,407.0C747.9,406.8 749.2,408.2 750.5,408.9C751.8,409.6 752.8,410.8 754.3,411.4C755.8,412.0 757.8,412.0 759.6,412.4C761.4,412.7 763.0,413.2 764.9,413.3C766.8,413.4 768.8,412.9 770.7,412.8C772.6,412.6 774.5,412.2 776.5,412.2C778.5,412.2 780.8,412.4 782.9,412.6C785.1,412.7 787.2,412.8 789.4,412.9C791.5,413.1 793.3,413.2 795.8,413.3C798.3,413.4 801.6,413.6 804.5,413.8C807.4,414.0 810.8,414.3 813.2,414.3C815.6,414.3 817.1,414.0 819.0,413.8C820.9,413.6 822.4,413.4 824.8,413.3C827.2,413.2 830.4,413.2 833.2,413.1C836.0,413.0 838.8,413.0 841.6,412.9C844.4,412.8 847.2,412.8 850.0,412.7C852.8,412.6 855.5,412.6 858.2,412.5C861.0,412.5 863.7,412.4 866.5,412.4C869.2,412.3 872.7,412.6 874.7,412.2C876.7,411.8 877.2,410.7 878.6,409.8C880.0,408.9 881.8,407.3 883.4,407.0C885.0,406.7 886.7,407.5 888.3,407.9C889.9,408.3 891.5,409.1 893.1,409.6C894.7,410.2 895.9,411.1 897.9,411.4C899.9,411.7 902.7,411.6 905.1,411.7C907.6,411.8 910.0,411.9 912.4,412.0C914.8,412.2 917.2,412.3 919.6,412.4C922.1,412.5 924.4,412.6 926.9,412.7C929.4,412.8 932.0,413.0 934.6,413.2C937.2,413.4 939.8,413.5 942.3,413.7C944.9,413.9 947.5,414.0 950.1,414.2C952.6,414.4 956.5,414.6 957.8,414.7" fill="none" stroke="#d2207e" stroke-width="2.7" stroke-linejoin="round" stroke-linecap="butt"/>
<path d="M81.8,476.6 H957.8" stroke="#4a4a4a" stroke-width="1.2" fill="none"/>
<path d="M65.5,231.8 V380" stroke="#141414" stroke-width="1.6" fill="none"/>
<path d="M81.8,392.5 V496.8" stroke="#141414" stroke-width="2" fill="none"/>
<path d="M957.8,255.8 V496.5" stroke="#141414" stroke-width="1.9" fill="none"/>
<g font-size="10.1" fill="#333333" stroke="#333333" stroke-width="0.2" text-anchor="middle">
<text x="80.2" y="488.5" text-anchor="end" textLength="4.3" lengthAdjust="spacingAndGlyphs">0</text>
<text x="125.7" y="488.5" textLength="8.2" lengthAdjust="spacingAndGlyphs">10</text>
<text x="169.2" y="488.5" textLength="8.2" lengthAdjust="spacingAndGlyphs">20</text>
<text x="212.8" y="488.5" textLength="8.2" lengthAdjust="spacingAndGlyphs">30</text>
<text x="256.3" y="488.5" textLength="8.2" lengthAdjust="spacingAndGlyphs">40</text>
<text x="299.8" y="488.5" textLength="8.2" lengthAdjust="spacingAndGlyphs">50</text>
<text x="343.3" y="488.5" textLength="8.2" lengthAdjust="spacingAndGlyphs">60</text>
<text x="386.8" y="488.5" textLength="8.2" lengthAdjust="spacingAndGlyphs">70</text>
<text x="430.4" y="488.5" textLength="8.2" lengthAdjust="spacingAndGlyphs">80</text>
<text x="473.9" y="488.5" textLength="8.2" lengthAdjust="spacingAndGlyphs">90</text>
<text x="517.4" y="488.5" textLength="12.4" lengthAdjust="spacingAndGlyphs">100</text>
<text x="560.9" y="488.5" textLength="12.4" lengthAdjust="spacingAndGlyphs">110</text>
<text x="604.4" y="488.5" textLength="12.4" lengthAdjust="spacingAndGlyphs">120</text>
<text x="648.0" y="488.5" textLength="12.4" lengthAdjust="spacingAndGlyphs">130</text>
<text x="691.5" y="488.5" textLength="12.4" lengthAdjust="spacingAndGlyphs">140</text>
<text x="735.0" y="488.5" textLength="12.4" lengthAdjust="spacingAndGlyphs">150</text>
<text x="778.5" y="488.5" textLength="12.4" lengthAdjust="spacingAndGlyphs">160</text>
<text x="822.0" y="488.5" textLength="12.4" lengthAdjust="spacingAndGlyphs">170</text>
<text x="865.6" y="488.5" textLength="12.4" lengthAdjust="spacingAndGlyphs">180</text>
<text x="909.1" y="488.5" textLength="12.4" lengthAdjust="spacingAndGlyphs">190</text>
<text x="957.6" y="488.5" text-anchor="end" textLength="12.6" lengthAdjust="spacingAndGlyphs">200</text>
</g>
<text transform="translate(86.2,500.7) rotate(-90)" font-size="15.4" font-weight="bold" fill="#111" stroke="#111" stroke-width="0.45" text-anchor="end" textLength="16.4" lengthAdjust="spacingAndGlyphs">0.0</text>
<text transform="translate(116.2,500.7) rotate(-90)" font-size="15.4" fill="#484848" stroke="#484848" stroke-width="0.3" text-anchor="end" textLength="15.8" lengthAdjust="spacingAndGlyphs">6.8</text>
<text transform="translate(141.6,500.7) rotate(-90)" font-size="15.4" fill="#484848" stroke="#484848" stroke-width="0.3" text-anchor="end" textLength="21.1" lengthAdjust="spacingAndGlyphs">12.6</text>
<text transform="translate(176.2,500.7) rotate(-90)" font-size="15.4" fill="#484848" stroke="#484848" stroke-width="0.3" text-anchor="end" textLength="21.7" lengthAdjust="spacingAndGlyphs">20.5</text>
<text transform="translate(198.0,500.7) rotate(-90)" font-size="15.4" fill="#484848" stroke="#484848" stroke-width="0.3" text-anchor="end" textLength="21.7" lengthAdjust="spacingAndGlyphs">25.5</text>
<text transform="translate(226.9,500.7) rotate(-90)" font-size="15.4" fill="#484848" stroke="#484848" stroke-width="0.3" text-anchor="end" textLength="21.7" lengthAdjust="spacingAndGlyphs">32.2</text>
<text transform="translate(255.9,500.7) rotate(-90)" font-size="15.4" fill="#484848" stroke="#484848" stroke-width="0.3" text-anchor="end" textLength="21.7" lengthAdjust="spacingAndGlyphs">38.8</text>
<text transform="translate(285.4,500.7) rotate(-90)" font-size="15.4" fill="#484848" stroke="#484848" stroke-width="0.3" text-anchor="end" textLength="21.7" lengthAdjust="spacingAndGlyphs">45.6</text>
<text transform="translate(307.7,500.7) rotate(-90)" font-size="15.4" fill="#484848" stroke="#484848" stroke-width="0.3" text-anchor="end" textLength="21.7" lengthAdjust="spacingAndGlyphs">50.7</text>
<text transform="translate(331.0,500.7) rotate(-90)" font-size="15.4" fill="#484848" stroke="#484848" stroke-width="0.3" text-anchor="end" textLength="21.1" lengthAdjust="spacingAndGlyphs">56.1</text>
<text transform="translate(373.6,500.7) rotate(-90)" font-size="15.4" fill="#484848" stroke="#484848" stroke-width="0.3" text-anchor="end" textLength="21.7" lengthAdjust="spacingAndGlyphs">66.0</text>
<text transform="translate(415.7,500.7) rotate(-90)" font-size="15.4" fill="#484848" stroke="#484848" stroke-width="0.3" text-anchor="end" textLength="21.7" lengthAdjust="spacingAndGlyphs">75.6</text>
<text transform="translate(454.4,500.7) rotate(-90)" font-size="15.4" font-weight="bold" fill="#111" stroke="#111" stroke-width="0.45" text-anchor="end" textLength="22.6" lengthAdjust="spacingAndGlyphs">84.5</text>
<text transform="translate(495.9,500.7) rotate(-90)" font-size="15.4" fill="#484848" stroke="#484848" stroke-width="0.3" text-anchor="end" textLength="21.7" lengthAdjust="spacingAndGlyphs">94.0</text>
<text transform="translate(529.2,500.7) rotate(-90)" font-size="15.4" font-weight="bold" fill="#111" stroke="#111" stroke-width="0.45" text-anchor="end" textLength="27.5" lengthAdjust="spacingAndGlyphs">101.5</text>
<text transform="translate(591.3,500.7) rotate(-90)" font-size="15.4" fill="#484848" stroke="#484848" stroke-width="0.3" text-anchor="end" textLength="26.4" lengthAdjust="spacingAndGlyphs">117.0</text>
<text transform="translate(611.3,500.7) rotate(-90)" font-size="15.4" font-weight="bold" fill="#111" stroke="#111" stroke-width="0.45" text-anchor="end" textLength="27.5" lengthAdjust="spacingAndGlyphs">121.6</text>
<text transform="translate(649.2,500.7) rotate(-90)" font-size="15.4" font-weight="bold" fill="#111" stroke="#111" stroke-width="0.45" text-anchor="end" textLength="28.1" lengthAdjust="spacingAndGlyphs">130.3</text>
<text transform="translate(670.8,500.7) rotate(-90)" font-size="15.4" fill="#484848" stroke="#484848" stroke-width="0.3" text-anchor="end" textLength="27.0" lengthAdjust="spacingAndGlyphs">135.2</text>
<text transform="translate(697.2,500.7) rotate(-90)" font-size="15.4" fill="#484848" stroke="#484848" stroke-width="0.3" text-anchor="end" textLength="26.4" lengthAdjust="spacingAndGlyphs">141.3</text>
<text transform="translate(742.6,500.7) rotate(-90)" font-size="15.4" fill="#484848" stroke="#484848" stroke-width="0.3" text-anchor="end" textLength="26.4" lengthAdjust="spacingAndGlyphs">151.8</text>
<text transform="translate(770.3,500.7) rotate(-90)" font-size="15.4" fill="#484848" stroke="#484848" stroke-width="0.3" text-anchor="end" textLength="27.0" lengthAdjust="spacingAndGlyphs">158.2</text>
<text transform="translate(809.6,500.7) rotate(-90)" font-size="15.4" fill="#484848" stroke="#484848" stroke-width="0.3" text-anchor="end" textLength="26.4" lengthAdjust="spacingAndGlyphs">167.1</text>
<text transform="translate(879.1,500.7) rotate(-90)" font-size="15.4" fill="#484848" stroke="#484848" stroke-width="0.3" text-anchor="end" textLength="27.0" lengthAdjust="spacingAndGlyphs">183.2</text>
<text transform="translate(905.6,500.7) rotate(-90)" font-size="15.4" fill="#484848" stroke="#484848" stroke-width="0.3" text-anchor="end" textLength="27.0" lengthAdjust="spacingAndGlyphs">189.2</text>
<text transform="translate(938.1,500.7) rotate(-90)" font-size="15.4" fill="#484848" stroke="#484848" stroke-width="0.3" text-anchor="end" textLength="27.0" lengthAdjust="spacingAndGlyphs">196.6</text>
<text transform="translate(963.2,500.7) rotate(-90)" font-size="15.4" font-weight="bold" fill="#111" stroke="#111" stroke-width="0.45" text-anchor="end" textLength="28.7" lengthAdjust="spacingAndGlyphs">202.0</text>
<g stroke="#b4b4b4" stroke-width="1.3" fill="none">
<path d="M80.6,543.5 V553.9 H953.5 V543.5"/>
<path d="M479,543.5 V553.9"/><path d="M565.6,543.5 V553.9"/>
</g>
<g font-size="14.4" fill="#b0b0b0" text-anchor="middle">
<text x="289.2" y="549.8" textLength="10.6" lengthAdjust="spacingAndGlyphs">TE</text>
<text x="522.0" y="549.8" textLength="10.6" lengthAdjust="spacingAndGlyphs">PE</text>
<text x="756.6" y="549.8" textLength="11.6" lengthAdjust="spacingAndGlyphs">CH</text>
</g>
<g stroke="#5a5a5a" stroke-width="1" fill="none">
<path d="M94.4,365.1 V385.7"/>
<path d="M119.8,338.6 V361.3"/>
<path d="M154.1,370.0 V392.4"/>
<path d="M176.1,359.3 V381.0"/>
<path d="M205.2,349.5 V370.7"/>
<path d="M233.9,346.3 V370.1"/>
<path d="M263.4,377.0 V391.1"/>
<path d="M285.5,378.1 V400.0"/>
<path d="M309.2,378.1 V400.0"/>
<path d="M352.3,378.1 V400.0"/>
<path d="M394.2,377.6 V400.0"/>
<path d="M432.9,354.6 V377.6"/>
<path d="M474.2,377.8 V400.0"/>
<path d="M508.1,377.8 V400.0"/>
<path d="M569.6,373.9 V395.0"/>
<path d="M589.8,340.0 V363.3"/>
<path d="M627.3,354.1 V378.4"/>
<path d="M648.8,377.4 V391.0"/>
<path d="M674.8,378.0 V399.4"/>
<path d="M720.8,373.5 V393.8"/>
<path d="M748.9,377.2 V398.7"/>
<path d="M788.0,376.8 V398.7"/>
<path d="M857.5,376.2 V398.0"/>
<path d="M883.5,374.5 V395.9"/>
<path d="M915.7,377.0 V397.3"/>
</g>
<text transform="translate(99.8,361.1) rotate(-90)" font-size="15.4" fill="#5a5a5a" stroke="#5a5a5a" stroke-width="0.25" textLength="114.3" lengthAdjust="spacingAndGlyphs">115 - Bellante Stazione</text>
<text transform="translate(125.2,334.6) rotate(-90)" font-size="15.4" fill="#5a5a5a" stroke="#5a5a5a" stroke-width="0.25" textLength="68.8" lengthAdjust="spacingAndGlyphs">339 - Bellante</text>
<text transform="translate(159.5,366.0) rotate(-90)" font-size="15.4" fill="#5a5a5a" stroke="#5a5a5a" stroke-width="0.25" textLength="93.7" lengthAdjust="spacingAndGlyphs">72 - Bv. per Nereto</text>
<text transform="translate(181.5,355.3) rotate(-90)" font-size="15.4" fill="#5a5a5a" stroke="#5a5a5a" stroke-width="0.25" textLength="62.6" lengthAdjust="spacingAndGlyphs">164 - Nereto</text>
<text transform="translate(210.6,345.5) rotate(-90)" font-size="15.4" fill="#5a5a5a" stroke="#5a5a5a" stroke-width="0.25" textLength="93.4" lengthAdjust="spacingAndGlyphs">246 - Controguerra</text>
<text transform="translate(239.3,342.3) rotate(-90)" font-size="15.4" fill="#5a5a5a" stroke="#5a5a5a" stroke-width="0.25" textLength="79.5" lengthAdjust="spacingAndGlyphs">275 - Colonnella</text>
<text transform="translate(268.8,373.0) rotate(-90)" font-size="15.4" fill="#5a5a5a" stroke="#5a5a5a" stroke-width="0.25" textLength="92.9" lengthAdjust="spacingAndGlyphs">11 - Alba Adriatica</text>
<text transform="translate(290.9,374.1) rotate(-90)" font-size="15.4" fill="#5a5a5a" stroke="#5a5a5a" stroke-width="0.25" textLength="84.7" lengthAdjust="spacingAndGlyphs">4 - Tortoreto Lido</text>
<text transform="translate(314.6,374.1) rotate(-90)" font-size="15.4" fill="#5a5a5a" stroke="#5a5a5a" stroke-width="0.25" textLength="67.3" lengthAdjust="spacingAndGlyphs">3 - Giulianova</text>
<text transform="translate(357.7,374.1) rotate(-90)" font-size="15.4" fill="#5a5a5a" stroke="#5a5a5a" stroke-width="0.25" textLength="118.0" lengthAdjust="spacingAndGlyphs">4 - Roseto degli Abruzzi</text>
<text transform="translate(399.6,373.6) rotate(-90)" font-size="15.4" fill="#5a5a5a" stroke="#5a5a5a" stroke-width="0.25" textLength="46.7" lengthAdjust="spacingAndGlyphs">4 - Pineto</text>
<text transform="translate(438.3,350.6) rotate(-90)" font-size="15.4" font-weight="bold" fill="#111" stroke="#111" stroke-width="0.45" textLength="95.2" lengthAdjust="spacingAndGlyphs">203 - SILVI PAESE</text>
<text transform="translate(479.6,373.8) rotate(-90)" font-size="15.4" fill="#5a5a5a" stroke="#5a5a5a" stroke-width="0.25" textLength="83.0" lengthAdjust="spacingAndGlyphs">4 - Montesilvano</text>
<text transform="translate(513.5,373.8) rotate(-90)" font-size="15.4" font-weight="bold" fill="#111" stroke="#111" stroke-width="0.45" textLength="68.6" lengthAdjust="spacingAndGlyphs">4 - PESCARA</text>
<text transform="translate(575.0,369.9) rotate(-90)" font-size="15.4" fill="#5a5a5a" stroke="#5a5a5a" stroke-width="0.25" textLength="81.8" lengthAdjust="spacingAndGlyphs">40 - Chieti Scalo</text>
<text transform="translate(595.2,336.0) rotate(-90)" font-size="15.4" font-weight="bold" fill="#111" stroke="#111" stroke-width="0.45" textLength="65.2" lengthAdjust="spacingAndGlyphs">328 - CHIETI</text>
<text transform="translate(632.7,350.1) rotate(-90)" font-size="15.4" font-weight="bold" fill="#111" stroke="#111" stroke-width="0.45" textLength="106.5" lengthAdjust="spacingAndGlyphs">210 - RIPA TEATINA</text>
<text transform="translate(654.2,373.4) rotate(-90)" font-size="15.4" fill="#5a5a5a" stroke="#5a5a5a" stroke-width="0.25" textLength="149.0" lengthAdjust="spacingAndGlyphs">51 - Quattro Strade-Miglianico</text>
<text transform="translate(680.2,374.0) rotate(-90)" font-size="15.4" fill="#5a5a5a" stroke="#5a5a5a" stroke-width="0.25" textLength="109.4" lengthAdjust="spacingAndGlyphs">3 - Francavilla al Mare</text>
<text transform="translate(726.2,369.5) rotate(-90)" font-size="15.4" fill="#5a5a5a" stroke="#5a5a5a" stroke-width="0.25" textLength="54.7" lengthAdjust="spacingAndGlyphs">39 - Ortona</text>
<text transform="translate(754.3,373.2) rotate(-90)" font-size="15.4" fill="#5a5a5a" stroke="#5a5a5a" stroke-width="0.25" textLength="114.4" lengthAdjust="spacingAndGlyphs">12 - Marina di San Vito</text>
<text transform="translate(793.4,372.8) rotate(-90)" font-size="15.4" fill="#5a5a5a" stroke="#5a5a5a" stroke-width="0.25" textLength="116.7" lengthAdjust="spacingAndGlyphs">14 - Fossacesia Marina</text>
<text transform="translate(862.9,372.2) rotate(-90)" font-size="15.4" fill="#5a5a5a" stroke="#5a5a5a" stroke-width="0.25" textLength="143.5" lengthAdjust="spacingAndGlyphs">21 - Svinc. Casalbordino A14</text>
<text transform="translate(888.9,370.5) rotate(-90)" font-size="15.4" fill="#5a5a5a" stroke="#5a5a5a" stroke-width="0.25" textLength="80.3" lengthAdjust="spacingAndGlyphs">34 - Bv. di Vasto</text>
<text transform="translate(921.1,373.0) rotate(-90)" font-size="15.4" fill="#5a5a5a" stroke="#5a5a5a" stroke-width="0.25" textLength="88.2" lengthAdjust="spacingAndGlyphs">13 - Vasto Marina</text>
<path d="M449.0,455.1 V496.4" stroke="#6a6a6a" stroke-width="1.2" fill="none"/>
<path d="M449.0,391.9 V455.1" stroke="#2e2e2e" stroke-width="1.4" fill="none"/>
<circle cx="449.0" cy="391.9" r="4.7" fill="#ffffff" opacity="0.7"/>
<circle cx="449.0" cy="391.9" r="4.1" fill="#141414"/>
<g transform="translate(449.2,455.1)">
<circle r="12.5" fill="url(#gBlue)" stroke="#161e5a" stroke-width="1.5"/>
<path d="M-10.9,-6.3 A12.5,12.5 0 0 1 10.9,-6.3 Z" fill="#4f8fd6"/>
<ellipse cx="0" cy="-9.4" rx="3.6" ry="1.6" fill="#a9cdf2" opacity="0.85"/>
<path d="M-10.3,-6.3 H10.3 L0,10.9 Z" fill="#ffffff"/>
<text x="-0.2" y="5.8" font-size="14" font-weight="bold" font-style="italic" fill="#111" stroke="#111" stroke-width="0.4" text-anchor="middle" textLength="7.2" lengthAdjust="spacingAndGlyphs">4</text>
</g>
<path d="M523.8,454.7 V496.4" stroke="#6a6a6a" stroke-width="1.2" fill="none"/>
<path d="M523.8,416.0 V454.7" stroke="#2e2e2e" stroke-width="1.4" fill="none"/>
<circle cx="523.8" cy="416.0" r="4.7" fill="#ffffff" opacity="0.7"/>
<circle cx="523.8" cy="416.0" r="4.1" fill="#141414"/>
<g transform="translate(523.9,454.7)">
<circle r="12.4" fill="url(#gMag)" stroke="#7c0d6c" stroke-width="1.4"/>
<text x="-0.4" y="7.3" font-size="20" font-weight="bold" font-style="italic" fill="#ffffff" text-anchor="middle">S</text>
</g>
<path d="M605.9,454.7 V496.4" stroke="#6a6a6a" stroke-width="1.2" fill="none"/>
<path d="M605.9,377.6 V454.7" stroke="#2e2e2e" stroke-width="1.4" fill="none"/>
<circle cx="605.9" cy="377.6" r="4.7" fill="#ffffff" opacity="0.7"/>
<circle cx="605.9" cy="377.6" r="4.1" fill="#141414"/>
<g transform="translate(606.0,454.7)">
<circle r="12.4" fill="url(#gMag)" stroke="#7c0d6c" stroke-width="1.4"/>
<text x="-0.4" y="7.3" font-size="20" font-weight="bold" font-style="italic" fill="#ffffff" text-anchor="middle">S</text>
</g>
<path d="M643.8,455.1 V496.4" stroke="#6a6a6a" stroke-width="1.2" fill="none"/>
<path d="M643.8,393.4 V455.1" stroke="#2e2e2e" stroke-width="1.4" fill="none"/>
<circle cx="643.8" cy="393.4" r="4.7" fill="#ffffff" opacity="0.7"/>
<circle cx="643.8" cy="393.4" r="4.1" fill="#141414"/>
<g transform="translate(644.0,455.1)">
<circle r="12.5" fill="url(#gBlue)" stroke="#161e5a" stroke-width="1.5"/>
<path d="M-10.9,-6.3 A12.5,12.5 0 0 1 10.9,-6.3 Z" fill="#4f8fd6"/>
<ellipse cx="0" cy="-9.4" rx="3.6" ry="1.6" fill="#a9cdf2" opacity="0.85"/>
<path d="M-10.3,-6.3 H10.3 L0,10.9 Z" fill="#ffffff"/>
<text x="-0.2" y="5.8" font-size="14" font-weight="bold" font-style="italic" fill="#111" stroke="#111" stroke-width="0.4" text-anchor="middle" textLength="7.2" lengthAdjust="spacingAndGlyphs">4</text>
</g>
<g transform="translate(732.9,472.2)">
<circle r="6.5" fill="#fbfbf6" stroke="#333" stroke-width="0.8"/>
<path d="M-4.0,4.2 V-0.6 A4.0,4.0 0 0 1 4.0,-0.6 V4.2" fill="#ffffff" stroke="#555" stroke-width="1.2"/>
<path d="M-2.3,4.2 V-0.4 A2.3,2.3 0 0 1 2.3,-0.4 V4.2 Z" fill="#15151f"/>
</g>
<g>
<path d="M28.50,237.70 H50.70 A3.6,3.6 0 0 1 54.30,241.30 V391.20 A14.70,14.70 0 0 1 24.90,391.20 V241.30 A3.6,3.6 0 0 1 28.50,237.70 Z" fill="none" stroke="#1f9a3c" stroke-width="5.4" opacity="0.35" filter="url(#blur1)"/>
<path d="M28.50,237.70 H50.70 A3.6,3.6 0 0 1 54.30,241.30 V391.20 A14.70,14.70 0 0 1 24.90,391.20 V241.30 A3.6,3.6 0 0 1 28.50,237.70 Z" fill="url(#gStart)" stroke="#1f9a3c" stroke-width="3.8"/>
<circle cx="39.7" cy="392.4" r="13.4" fill="url(#gGreen)" stroke="#0e5220" stroke-width="1.7"/>
<g transform="translate(39.7,392.4)" fill="none" stroke="#ffffff" stroke-linecap="round" stroke-linejoin="round">
<circle cx="-6.6" cy="3.2" r="3.0" stroke-width="1.5"/><circle cx="6.5" cy="3.2" r="3.0" stroke-width="1.5"/>
<path d="M-6.6,3.2 L-3.4,-1.6 L2.6,-1.6 L6.5,3.2 M-3.4,-1.6 L-0.8,3.4 L2.6,-1.6" stroke-width="1.1"/>
<path d="M-4.2,-4.6 Q-1.6,-8.2 3.2,-7.4" stroke-width="3.4"/>
<path d="M-4.2,-4.4 L-0.4,-1.4 L-1.4,3.4" stroke-width="2.2"/>
<path d="M2.8,-6.6 L5.6,-2.6" stroke-width="1.6"/>
<circle cx="4.6" cy="-8.0" r="1.8" fill="#fff" stroke="none"/>
</g>
<text transform="translate(46.4,370.3) rotate(-90)" font-size="19.6" font-weight="bold" fill="#111" stroke="#111" stroke-width="0.45" textLength="125.2" lengthAdjust="spacingAndGlyphs">188 - TERAMO</text>
</g>
<g>
<path d="M972.00,255.20 H994.20 A3.6,3.6 0 0 1 997.80,258.80 V414.20 A14.70,14.70 0 0 1 968.40,414.20 V258.80 A3.6,3.6 0 0 1 972.00,255.20 Z" fill="none" stroke="#d3141c" stroke-width="5.4" opacity="0.35" filter="url(#blur1)"/>
<path d="M972.00,255.20 H994.20 A3.6,3.6 0 0 1 997.80,258.80 V414.20 A14.70,14.70 0 0 1 968.40,414.20 V258.80 A3.6,3.6 0 0 1 972.00,255.20 Z" fill="url(#gFin)" stroke="#d3141c" stroke-width="3.8"/>
<circle cx="983.0" cy="414.2" r="12.5" fill="url(#gRed)" stroke="#5e0a0c" stroke-width="1.6"/>
<g transform="translate(983.0,414.2)" fill="none" stroke="#ffffff" stroke-linecap="round" stroke-linejoin="round">
<circle cx="-6.3" cy="4.6" r="2.8" stroke-width="1.4"/><circle cx="6.1" cy="4.6" r="2.8" stroke-width="1.4"/>
<path d="M-6.3,4.6 L-3.2,0.6 L2.4,0.6 L6.1,4.6 M-3.2,0.6 L-0.6,4.8 L2.4,0.6" stroke-width="1"/>
<path d="M-2.6,-0.2 Q-3.6,-5.4 -1.2,-9.6" stroke-width="3.2"/>
<path d="M-1.0,-9.8 L0.8,-11.6" stroke-width="2"/>
<path d="M-2.4,-0.4 L1.0,0.2 L0.2,4.4" stroke-width="1.8"/>
<path d="M-1.6,-5.6 L3.8,-1.6" stroke-width="1.4"/>
</g>
<text transform="translate(991.2,398.2) rotate(-90)" font-size="19.6" font-weight="bold" fill="#111" stroke="#111" stroke-width="0.45" textLength="131.6" lengthAdjust="spacingAndGlyphs">2 - SAN SALVO</text>
</g>
<text transform="translate(985.6,479.8) rotate(-90)" font-size="13.6" fill="#141414" stroke="#141414" stroke-width="0.55" textLength="33.8" lengthAdjust="spacingAndGlyphs">SDS</text>
</svg>
</body>
</html>
